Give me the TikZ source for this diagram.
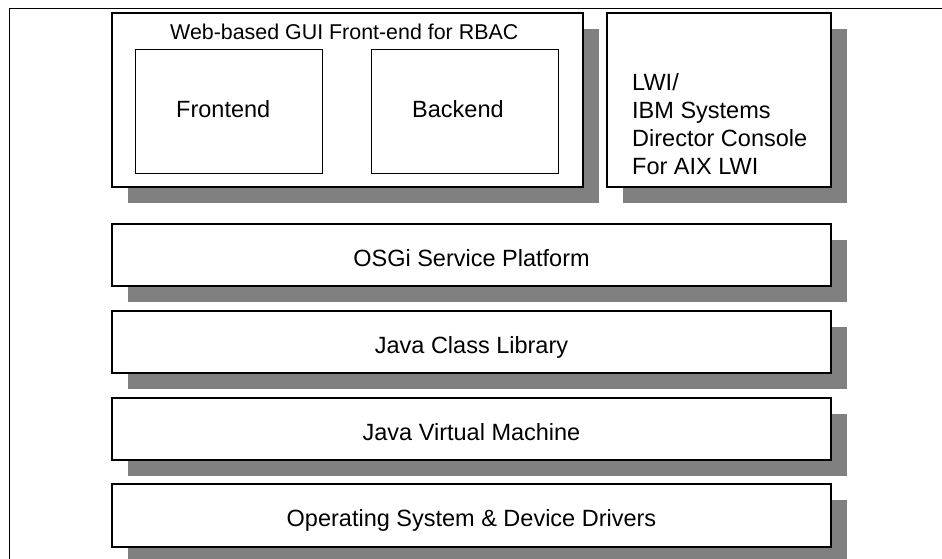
\documentclass[tikz,border=0pt]{standalone}
\usepackage{fontspec}
\setmainfont{Liberation Sans}
\usetikzlibrary{shadows}
\definecolor{shadowgray}{RGB}{128,128,128}
\tikzset{
  layerbox/.style={draw=black, line width=2pt, fill=white, rectangle, inner sep=0pt,
    anchor=north west, font=\fontsize{23.5}{28.3}\selectfont,
    text height=22pt, text depth=0pt,
    drop shadow={shadow xshift=16pt, shadow yshift=-16pt, fill=shadowgray, opacity=1, draw=none}},
  innerbox/.style={draw=black, line width=1.3pt, fill=white, rectangle, inner sep=0pt, anchor=north west},
  lbl/.style={inner sep=0pt, anchor=base west, font=\fontsize{23.5}{28.3}\selectfont},
  frame/.style={draw=black, line width=1pt}
}
\begin{document}
\begin{tikzpicture}[x=1pt, y=-1pt]
\useasboundingbox (0,0) rectangle (942,558);
\coordinate (ftop) at (942,8.5);
\coordinate (fcorner) at (9.5,8.5);
\coordinate (fbottom) at (9.5,560);
\draw[frame] (ftop) -- (fcorner) -- (fbottom);
% top boxes
\node[layerbox, minimum width=471pt, minimum height=174pt] (web) at (111,12) {};
\node[layerbox, minimum width=224pt, minimum height=174pt] (lwi) at (606,12) {};
\node[innerbox, minimum width=187pt, minimum height=124pt] (front) at (135,49) {};
\node[innerbox, minimum width=187pt, minimum height=124pt] (back) at (371,49) {};
\node[inner sep=0pt, anchor=base west, font=\fontsize{21.4}{25}\selectfont] (webtitle) at (170,39) {Web-based GUI Front-end for RBAC};
\node[lbl] (fronttxt) at (176,117) {Frontend};
\node[lbl] (backtxt) at (412,117) {Backend};
\node[lbl] (lwi1) at (632,90) {LWI/};
\node[lbl] (lwi2) at (632,118.3) {IBM Systems};
\node[lbl] (lwi3) at (632,146.6) {Director Console};
\node[lbl] (lwi4) at (632,174.9) {For AIX LWI};
% layers
\node[layerbox, minimum width=719pt, minimum height=62pt] (osgi) at (111,223) {OSGi Service Platform};
\node[layerbox, minimum width=719pt, minimum height=62pt] (jcl) at (111,310) {Java Class Library};
\node[layerbox, minimum width=719pt, minimum height=62pt] (jvm) at (111,397) {Java Virtual Machine};
\node[layerbox, minimum width=719pt, minimum height=63pt] (os) at (111,483) {Operating System \& Device Drivers};
\end{tikzpicture}
\end{document}
